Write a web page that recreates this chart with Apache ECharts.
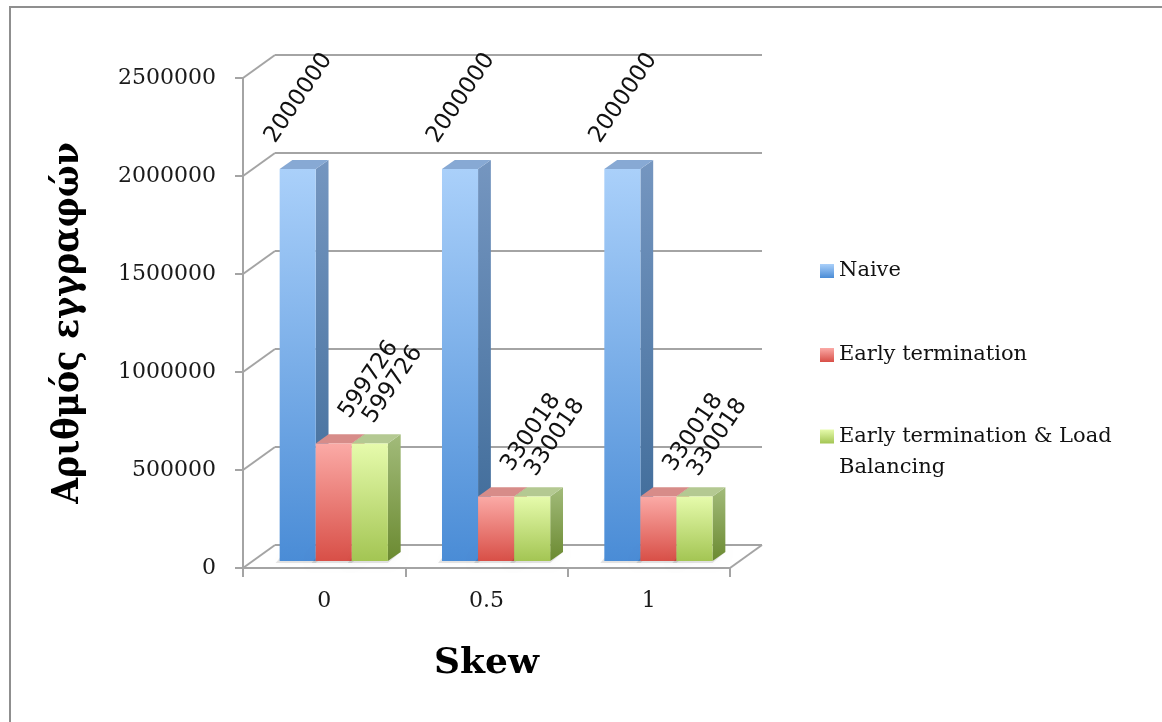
<!DOCTYPE html>
<html>
<head>
<meta charset="utf-8">
<script src="https://cdn.jsdelivr.net/npm/echarts@6/dist/echarts.min.js"></script>
<style>
  html, body { margin: 0; padding: 0; background: #ffffff; }
  #chart { width: 1162px; height: 722px; }
</style>
</head>
<body>
<div id="chart"></div>
<script>
// Records processed per skew level, for each strategy
const categories = ['0', '0.5', '1'];
const naive = [2000000, 2000000, 2000000];
const earlyTermination = [599726, 330018, 330018];
const earlyTerminationLB = [599726, 330018, 330018];
const yTicks = [0, 500000, 1000000, 1500000, 2000000, 2500000];
const seriesNames = ['Naive', 'Early termination', 'Early termination & Load Balancing'];

// Oblique projection used for the pseudo-3D look (pixels toward the back wall)
const DX = 32, DY = -23;
// Bars sit between these fractions of the depth
const F0 = 0.3, F1 = 0.7;

const grad = (top, bottom) => new echarts.graphic.LinearGradient(0, 0, 0, 1, [
  { offset: 0, color: top }, { offset: 1, color: bottom }
]);

const palettes = [
  { front: ['#aad0fa', '#4a8cd6'], side: ['#7596c0', '#3b6896'], top: '#87a9d4' },
  { front: ['#fbaaa6', '#d84f47'], side: ['#c27875', '#a03a34'], top: '#d78c89' },
  { front: ['#e6fbac', '#a3c553'], side: ['#a2bb7a', '#6b8a31'], top: '#b4c992' }
];
// label centre offset from the top-centre of each bar's front face
const labelOffsets = [[1, -71], [35, -64], [23, -59]];

function barRenderer(idx) {
  const pal = palettes[idx];
  const off = labelOffsets[idx];
  return function (params, api) {
    const cat = api.value(0);
    const val = api.value(1);
    const band = api.size([1, 0])[0];
    const barW = band * 2 / 9;
    const top = api.coord([cat, val]);
    const base = api.coord([cat, 0]);
    const x0 = top[0] - band / 3 + idx * barW + F0 * DX;
    const x1 = x0 + barW;
    const yt = top[1] + F0 * DY;
    const yb = base[1] + F0 * DY;
    const sdx = (F1 - F0) * DX, sdy = (F1 - F0) * DY;
    return {
      type: 'group',
      children: [
        {
          type: 'polygon',
          shape: { points: [[x0 - 4, yb + 2], [x1, yb + 2], [x1 + sdx, yb + sdy], [x0 + sdx - 8, yb + sdy]] },
          style: { fill: 'rgba(0,0,0,0.10)', shadowBlur: 8, shadowColor: 'rgba(0,0,0,0.25)' },
          z2: 0
        },
        {
          type: 'polygon',
          shape: { points: [[x1, yt], [x1 + sdx, yt + sdy], [x1 + sdx, yb + sdy], [x1, yb]] },
          style: { fill: grad(pal.side[0], pal.side[1]) },
          z2: 1
        },
        {
          type: 'polygon',
          shape: { points: [[x0, yt], [x1, yt], [x1 + sdx, yt + sdy], [x0 + sdx, yt + sdy]] },
          style: { fill: pal.top },
          z2: 1
        },
        {
          type: 'rect',
          shape: { x: x0, y: yt, width: barW, height: yb - yt },
          style: { fill: grad(pal.front[0], pal.front[1]) },
          z2: 2
        },
        {
          type: 'text',
          x: (x0 + x1) / 2 + off[0],
          y: yt + off[1],
          rotation: 56 * Math.PI / 180,
          style: {
            text: String(val),
            font: '23px "DejaVu Sans"',
            fill: '#111111',
            align: 'center',
            verticalAlign: 'middle'
          },
          z2: 10
        }
      ]
    };
  };
}

// Left side wall and right floor edge
function wallRenderer(params, api) {
  const cs = params.coordSys;
  const v = api.value(1);
  const y = api.coord([0, v])[1];
  const lineStyle = { stroke: '#a4a4a4', lineWidth: 2 };
  const children = [{
    type: 'line',
    shape: { x1: cs.x, y1: y, x2: cs.x + DX, y2: y + DY },
    style: lineStyle
  }];
  if (v === 0) {
    children.push({
      type: 'line',
      shape: { x1: cs.x + cs.width, y1: y, x2: cs.x + cs.width + DX, y2: y + DY },
      style: lineStyle
    });
  }
  return { type: 'group', children };
}

const axisFont = { fontFamily: 'DejaVu Serif', fontSize: 22, color: '#1a1a1a' };
const legendText = { fontFamily: 'DejaVu Serif', fontSize: 21, color: '#111111', lineHeight: 24 };
const titleFont = { fontFamily: '"DejaVu Serif Condensed", "DejaVu Serif"', fontWeight: 'bold', fontSize: 37, color: '#000000' };
const yMin = yTicks[0], yMax = yTicks[yTicks.length - 1], yStep = yTicks[1] - yTicks[0];

const chart = echarts.init(document.getElementById('chart'), null, { renderer: 'canvas' });

chart.setOption({
  backgroundColor: '#ffffff',
  animation: false,
  graphic: [{
    type: 'rect',
    shape: { x: 10, y: 7, width: 1300, height: 900 },
    style: { fill: 'none', stroke: '#8f8f8f', lineWidth: 2 },
    z: -10
  }],
  grid: [
    { left: 243, top: 78, width: 487, height: 490 },
    { left: 275, top: 55, width: 487, height: 490 }
  ],
  xAxis: [
    {
      gridIndex: 0,
      type: 'category',
      data: categories,
      boundaryGap: true,
      axisLine: { lineStyle: { color: '#a4a4a4', width: 2 } },
      axisTick: { show: true, length: 9, alignWithLabel: false, lineStyle: { color: '#a4a4a4', width: 2 } },
      axisLabel: Object.assign({ margin: 22 }, axisFont),
      name: 'Skew',
      nameLocation: 'middle',
      nameGap: 78,
      nameTextStyle: { fontFamily: 'DejaVu Serif', fontWeight: 'bold', fontSize: 36, color: '#000000' },
      splitLine: { show: false }
    },
    {
      gridIndex: 1,
      type: 'category',
      data: categories,
      axisLine: { show: false },
      axisTick: { show: false },
      axisLabel: { show: false },
      splitLine: { show: false }
    }
  ],
  yAxis: [
    {
      gridIndex: 0,
      type: 'value',
      min: yMin,
      max: yMax,
      interval: yStep,
      axisLine: { show: true, lineStyle: { color: '#a4a4a4', width: 2 } },
      axisTick: { show: true, length: 8, lineStyle: { color: '#a4a4a4', width: 2 } },
      axisLabel: Object.assign({ margin: 27, formatter: v => String(v) }, axisFont),
      splitLine: { show: false },
      name: 'Αριθμός εγγραφών',
      nameLocation: 'middle',
      nameRotate: 90,
      nameGap: 156,
      nameTextStyle: titleFont
    },
    {
      gridIndex: 1,
      type: 'value',
      min: yMin,
      max: yMax,
      interval: yStep,
      axisLine: { show: false },
      axisTick: { show: false },
      axisLabel: { show: false },
      splitLine: { show: true, lineStyle: { color: '#a4a4a4', width: 2 } }
    }
  ],
  legend: [
    {
      data: [seriesNames[0]], orient: 'vertical', left: 820, top: 259, padding: 0,
      itemWidth: 14, itemHeight: 14, icon: 'rect', selectedMode: false, textStyle: legendText
    },
    {
      data: [seriesNames[1]], orient: 'vertical', left: 820, top: 343, padding: 0,
      itemWidth: 14, itemHeight: 14, icon: 'rect', selectedMode: false, textStyle: legendText
    },
    {
      data: [seriesNames[2]], orient: 'vertical', left: 820, top: 390, padding: 0,
      itemWidth: 14, itemHeight: 14, icon: 'rect', selectedMode: false,
      formatter: () => '\nEarly termination & Load\nBalancing',
      textStyle: Object.assign({}, legendText, { lineHeight: 31 })
    }
  ],
  series: [
    {
      type: 'custom',
      name: 'wall',
      xAxisIndex: 0, yAxisIndex: 0,
      renderItem: wallRenderer,
      data: yTicks.map(v => [0, v]),
      encode: { x: 0, y: 1 },
      clip: false,
      silent: true,
      z: 1
    },
    ...[naive, earlyTermination, earlyTerminationLB].map((vals, i) => ({
      type: 'custom',
      name: seriesNames[i],
      xAxisIndex: 0, yAxisIndex: 0,
      renderItem: barRenderer(i),
      data: vals.map((v, c) => [c, v]),
      encode: { x: 0, y: 1 },
      itemStyle: { color: grad(palettes[i].front[0], palettes[i].front[1]) },
      clip: false,
      z: 2 + i
    }))
  ]
});
</script>
</body>
</html>
